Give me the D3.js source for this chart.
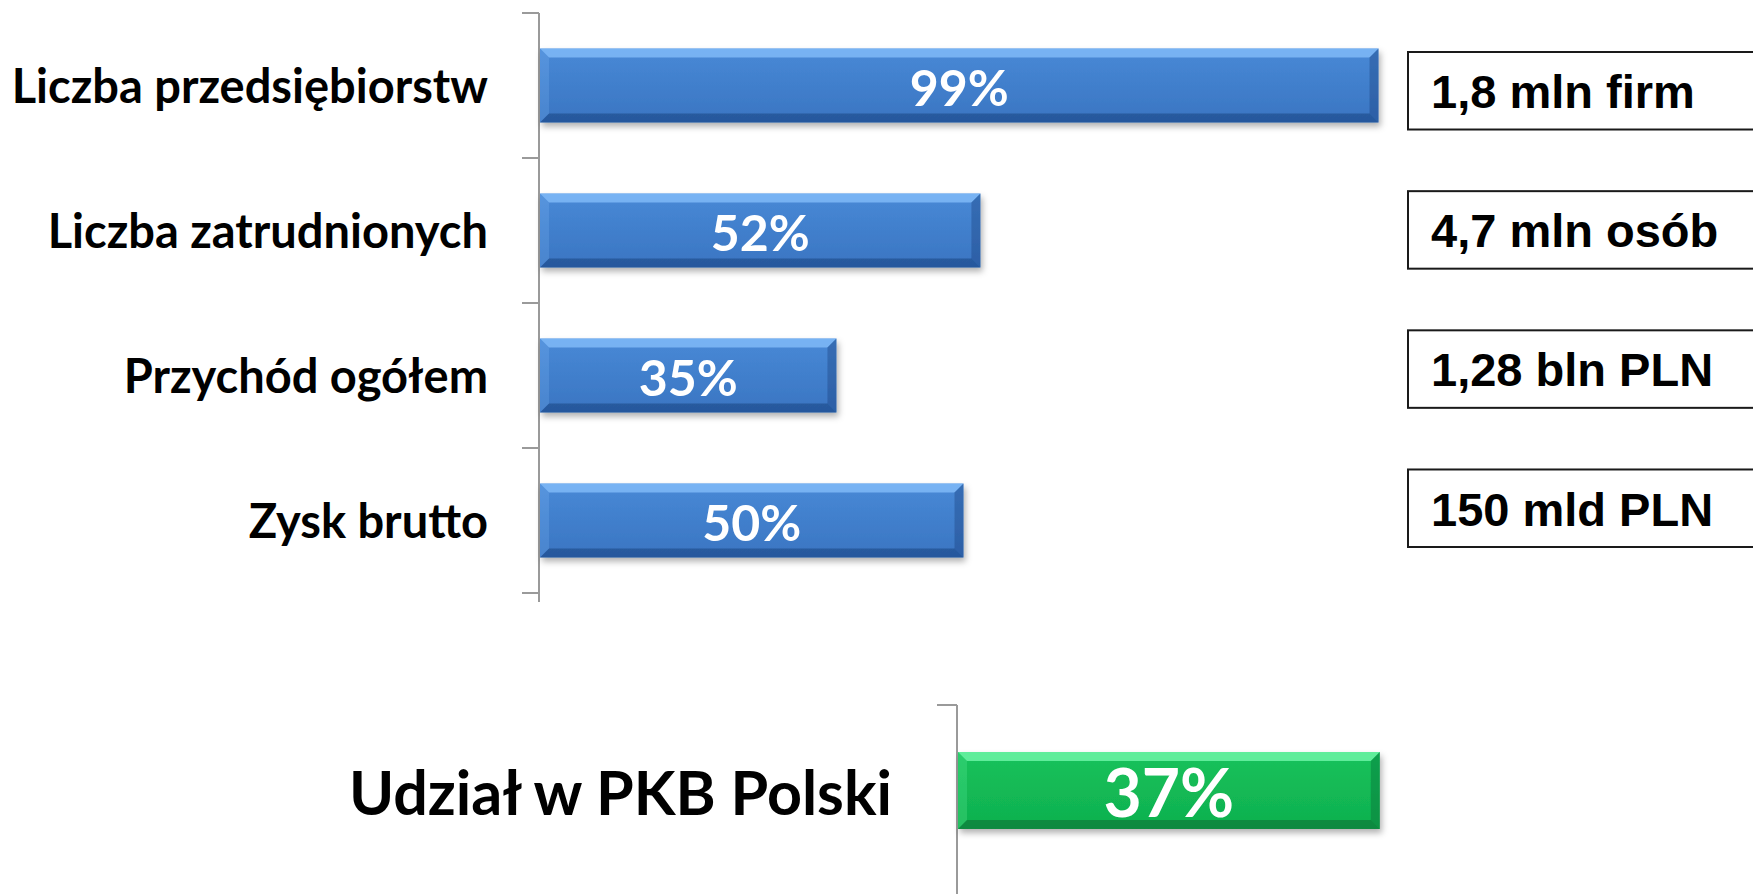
<!DOCTYPE html>
<html>
<head>
<meta charset="utf-8">
<script src="https://cdn.jsdelivr.net/npm/d3@7"></script>
<style>
  body { margin: 0; background: #fff; }
  svg { display: block; }
</style>
</head>
<body>
<div id="chart"></div>
<script>
// top chart: SME share of totals
const categories = ['Liczba przedsiębiorstw', 'Liczba zatrudnionych', 'Przychód ogółem', 'Zysk brutto'];
const shares = [99, 52, 35, 50];
const boxLabels = ['1,8 mln firm', '4,7 mln osób', '1,28 bln PLN', '150 mld PLN'];

// bottom chart: share in GDP
const gdpCategories = ['Udział w PKB Polski'];
const gdpShares = [37];

const width = 1753, height = 894;

let svg = d3.select('#chart').append('svg')
    .attr('width', width)
    .attr('height', height);

let defs = svg.append('defs');

let shadow = defs.append('filter')
    .attr('id', 'bar-shadow')
    .attr('x', '-5%').attr('y', '-20%')
    .attr('width', '115%').attr('height', '150%');
shadow.append('feDropShadow')
    .attr('dx', 2).attr('dy', 4)
    .attr('stdDeviation', 3)
    .attr('flood-color', '#000')
    .attr('flood-opacity', 0.3);

let makeGradient = (id, stops) => {
    let g = defs.append('linearGradient')
        .attr('id', id)
        .attr('x1', 0).attr('y1', 0).attr('x2', 0).attr('y2', 1);
    stops.forEach(s => g.append('stop').attr('offset', s[0]).attr('stop-color', s[1]));
};
makeGradient('blue-fill', [['0%', '#4889d6'], ['100%', '#3a75c2']]);
makeGradient('green-fill', [['0%', '#16c25c'], ['100%', '#0fb04e']]);

// bevelled bar like the office "convex" style
let bevelBar = (g, x0, y0, w, h, fill, light, dark) => {
    let b = 9;
    let bar = g.append('g').style('filter', 'url(#bar-shadow)');
    bar.append('rect')
        .attr('x', x0).attr('y', y0)
        .attr('width', w).attr('height', h)
        .attr('fill', fill);
    let x1 = x0 + w, y1 = y0 + h;
    let poly = (pts, color, op) => bar.append('polygon')
        .attr('points', pts.map(p => p.join(',')).join(' '))
        .attr('fill', color)
        .attr('fill-opacity', op);
    poly([[x0, y0], [x1, y0], [x1 - b, y0 + b], [x0 + b, y0 + b]], light, 0.7);
    poly([[x0, y0], [x0 + b, y0 + b], [x0 + b, y1 - b], [x0, y1]], light, 0.2);
    poly([[x1, y0], [x1, y1], [x1 - b, y1 - b], [x1 - b, y0 + b]], dark, 0.3);
    poly([[x0, y1], [x0 + b, y1 - b], [x1 - b, y1 - b], [x1, y1]], dark, 0.4);
};

// ---------- top chart ----------
let x = d3.scaleLinear().domain([0, 100]).range([540, 1387]);
let y = d3.scaleBand().domain(categories).range([13, 593])
    .paddingInner(0.49).paddingOuter(0.245);

let topChart = svg.append('g');

// category axis (line + ticks between categories)
let axisX = x(0) - 1;
topChart.append('line')
    .attr('x1', axisX).attr('x2', axisX)
    .attr('y1', y.range()[0]).attr('y2', y.range()[1] + 9)
    .attr('stroke', '#9a9a9a').attr('stroke-width', 2);
topChart.selectAll('.tick')
    .data(d3.range(categories.length + 1))
    .enter().append('line')
    .attr('x1', axisX - 17).attr('x2', axisX)
    .attr('y1', i => y.range()[0] + i * y.step())
    .attr('y2', i => y.range()[0] + i * y.step())
    .attr('stroke', '#9a9a9a').attr('stroke-width', 2);

categories.forEach((c, i) => {
    bevelBar(topChart, x(0), y(c), x(shares[i]) - x(0), y.bandwidth(),
        'url(#blue-fill)', '#8cc4ff', '#0d2f66');
});

topChart.selectAll('.val')
    .data(categories)
    .enter().append('text')
    .attr('x', (d, i) => (x(0) + x(shares[i])) / 2)
    .attr('y', d => y(d) + y.bandwidth() / 2)
    .attr('dy', '0.4em')
    .attr('text-anchor', 'middle')
    .style('font-family', 'Lato, "Open Sans", sans-serif')
    .style('font-weight', 'bold')
    .style('font-size', '50px')
    .attr('fill', '#fff')
    .text((d, i) => shares[i] + '%');

topChart.selectAll('.cat')
    .data(categories)
    .enter().append('text')
    .attr('x', 488)
    .attr('y', d => y(d) + y.bandwidth() / 2)
    .attr('dy', '0.38em')
    .attr('text-anchor', 'end')
    .style('font-family', 'Lato, "Open Sans", sans-serif')
    .style('font-weight', 'bold')
    .style('font-size', '47px')
    .attr('fill', '#000')
    .text(d => d);

// boxes on the right with absolute values
let yb = d3.scaleBand().domain(boxLabels).range([52, 547])
    .paddingInner(0.443).paddingOuter(0);

let boxes = svg.append('g');
boxes.selectAll('rect')
    .data(boxLabels)
    .enter().append('rect')
    .attr('x', 1408)
    .attr('y', d => yb(d))
    .attr('width', 400)
    .attr('height', yb.bandwidth())
    .attr('fill', '#fff')
    .attr('stroke', '#1a1a1a')
    .attr('stroke-width', 2);
boxes.selectAll('text')
    .data(boxLabels)
    .enter().append('text')
    .attr('x', 1431)
    .attr('y', d => yb(d) + yb.bandwidth() / 2)
    .attr('dy', '0.37em')
    .style('font-family', '"Liberation Sans", Arial, sans-serif')
    .style('font-weight', 'bold')
    .style('font-size', '47px')
    .attr('fill', '#000')
    .text(d => d);

// ---------- bottom chart ----------
let x2 = d3.scaleLinear().domain([0, 40]).range([958, 1414]);
let y2 = d3.scaleBand().domain(gdpCategories).range([705, 876])
    .paddingInner(0.55).paddingOuter(0.275);

let bottomChart = svg.append('g');
let axisX2 = x2(0) - 1;
bottomChart.append('line')
    .attr('x1', axisX2).attr('x2', axisX2)
    .attr('y1', y2.range()[0]).attr('y2', height)
    .attr('stroke', '#9a9a9a').attr('stroke-width', 2);
bottomChart.append('line')
    .attr('x1', axisX2 - 20).attr('x2', axisX2)
    .attr('y1', y2.range()[0]).attr('y2', y2.range()[0])
    .attr('stroke', '#9a9a9a').attr('stroke-width', 2);

gdpCategories.forEach((c, i) => {
    bevelBar(bottomChart, x2(0), y2(c), x2(gdpShares[i]) - x2(0), y2.bandwidth(),
        'url(#green-fill)', '#7dffb5', '#02502a');
});

bottomChart.selectAll('.val')
    .data(gdpCategories)
    .enter().append('text')
    .attr('x', (d, i) => (x2(0) + x2(gdpShares[i])) / 2)
    .attr('y', d => y2(d) + y2.bandwidth() / 2)
    .attr('dy', '0.4em')
    .attr('text-anchor', 'middle')
    .style('font-family', 'Lato, "Open Sans", sans-serif')
    .style('font-weight', 'bold')
    .style('font-size', '66px')
    .attr('fill', '#fff')
    .text((d, i) => gdpShares[i] + '%');

bottomChart.selectAll('.cat')
    .data(gdpCategories)
    .enter().append('text')
    .attr('x', 892)
    .attr('y', d => y2(d) + y2.bandwidth() / 2)
    .attr('dy', '0.4em')
    .attr('text-anchor', 'end')
    .style('font-family', 'Lato, "Open Sans", sans-serif')
    .style('font-weight', 'bold')
    .style('font-size', '61px')
    .attr('fill', '#000')
    .text(d => d);
</script>
</body>
</html>
